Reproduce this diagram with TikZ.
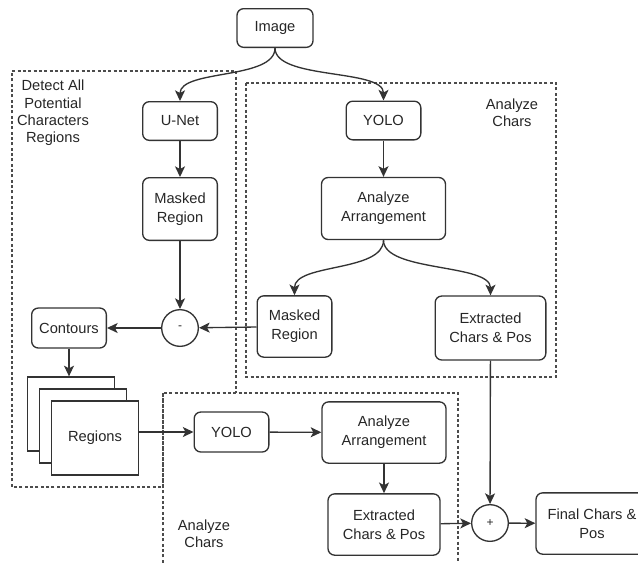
\documentclass[tikz,border=0pt]{standalone}
\usepackage{fontspec}
\setmainfont{Liberation Sans}
\usetikzlibrary{arrows.meta,positioning}

\begin{document}
\begin{tikzpicture}[
    x=0.75pt, y=-0.75pt,
    node distance=66pt,
    every node/.style={font=\fontsize{11}{14}\selectfont, text=black!85},
    block/.style={rectangle, rounded corners=5pt, draw=black!80, line width=1pt, align=center, minimum width=56pt, minimum height=29pt, inner sep=2pt},
    sheet/.style={rectangle, draw=black!80, line width=1pt, fill=white, minimum width=65pt, minimum height=55.5pt},
    op/.style={circle, draw=black!80, line width=1pt, minimum size=27.5pt, inner sep=0pt, font=\fontsize{9}{10}\selectfont},
    group/.style={draw=black!70, dash pattern=on 2.2pt off 1.8pt, line width=0.8pt},
    grouptitle/.style={align=center, font=\fontsize{11}{13}\selectfont},
    arrow/.style={-{Stealth[length=8pt,width=7.5pt,inset=2pt]}, draw=black!80, line width=1pt}
]
\useasboundingbox (0,0) rectangle (638,562);

% Dashed groups
\draw[group] (163,393) -- (163,487) -- (12,487) -- (12,71) -- (236,71) -- (236,393);
\draw[group] (246,83) rectangle (556,377);
\draw[group] (163,600) -- (163,393) -- (458,393) -- (458,600);

% Input image
\node[block, minimum width=57pt] (img) at (275,28) {Image};

% Detect all potential character regions
\node[block] (unet) at (180,121) {U-Net};
\node[block, below of=unet, minimum height=47pt] (maskl) {Masked\\Region};
\node[op] (minus) at (180,328) {-};
\node[block, minimum height=30pt] (cont) at (69,328) {Contours};
\node[sheet] (reg3) at (71,414) {};
\node[sheet] (reg2) at (83,426) {};
\node[sheet] (regions) at (95,438) {Regions};

% Analyze chars (top)
\node[block] (yolo1) at (383.5,120.5) {YOLO};
\node[block, below of=yolo1, minimum width=93pt, minimum height=46.5pt] (arr1) {Analyze\\Arrangement};
\node[block, minimum height=46pt] (maskr) at (294.5,326.5) {Masked\\Region};
\node[block, minimum width=83pt, minimum height=48pt] (ext1) at (490.5,328) {Extracted\\Chars \& Pos};

% Analyze chars (bottom)
\node[block, minimum height=30pt] (yolo2) at (231.5,432) {YOLO};
\node[block, minimum width=93pt, minimum height=46pt] (arr2) at (384,432.5) {Analyze\\Arrangement};
\node[block, below of=arr2, node distance=69pt, minimum width=84pt, minimum height=46pt] (ext2) {Extracted\\Chars \& Pos};
\node[op] (plus) at (490,523) {+};
\node[block, minimum width=84pt, minimum height=46pt] (final) at (592,523.5) {Final Chars \&\\Pos};

% Group titles
\node[grouptitle] (tdetect) at (53,113) {Detect All\\Potential\\Characters\\Regions};
\node[grouptitle] (tchars1) at (512,113) {Analyze\\Chars};
\node[grouptitle] (tchars2) at (204,534) {Analyze\\Chars};

% Connections
\draw[arrow] (img.south) .. controls +(0,32) and +(0,-32) .. (unet.north);
\draw[arrow] (img.south) .. controls +(0,32) and +(0,-32) .. (yolo1.north);
\draw[arrow] (unet) -- (maskl);
\draw[arrow] (maskl) -- (minus);
\draw[arrow] (yolo1) -- (arr1);
\draw[arrow] (arr1.south) .. controls +(0,32) and +(0,-32) .. (maskr.north);
\draw[arrow] (arr1.south) .. controls +(0,32) and +(0,-32) .. (ext1.north);
\draw[arrow] (maskr) -- (minus);
\draw[arrow] (minus) -- (cont);
\draw[arrow] (cont.south) -- (cont.south |- reg3.north);
\draw[arrow] (regions.east |- yolo2.west) -- (yolo2.west);
\draw[arrow] (yolo2) -- (arr2);
\draw[arrow] (arr2) -- (ext2);
\draw[arrow] (ext2) -- (plus);
\draw[arrow] (ext1) -- (plus);
\draw[arrow] (plus) -- (final);
\end{tikzpicture}
\end{document}
